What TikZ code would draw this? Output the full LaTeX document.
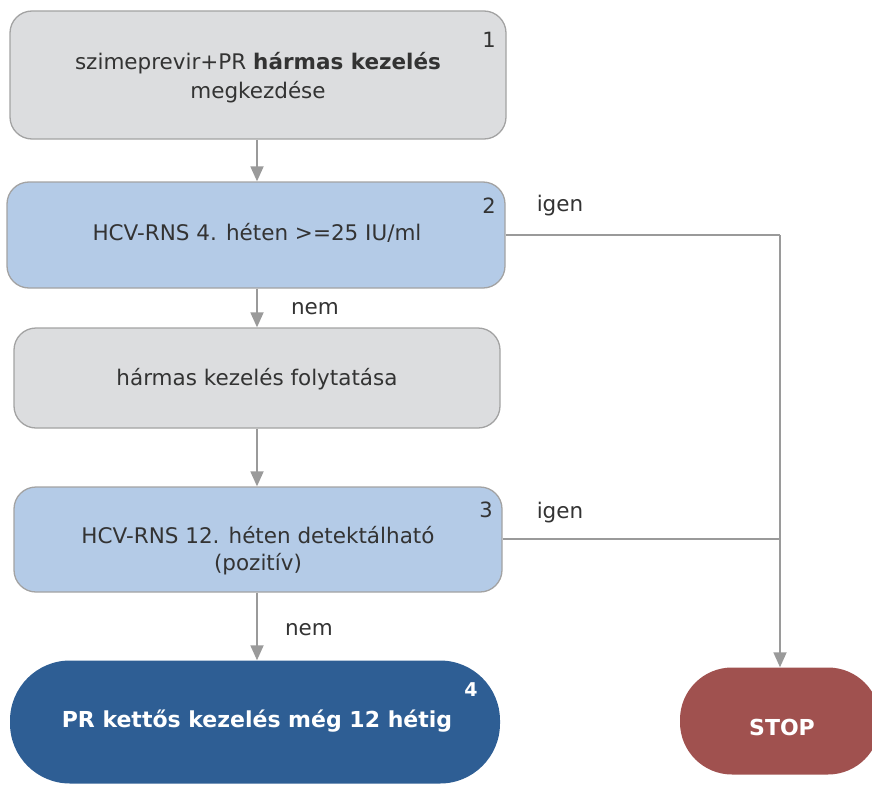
\documentclass[tikz,border=0pt]{standalone}
\usepackage{fontspec}
\setmainfont{DejaVu Sans}
\usetikzlibrary{arrows.meta,calc}
\definecolor{greyfill}{HTML}{DCDDDF}
\definecolor{bluefill}{HTML}{B4CBE7}
\definecolor{darkblue}{HTML}{2E5E94}
\definecolor{stopred}{HTML}{A0514F}
\definecolor{edge}{HTML}{A3A3A3}
\definecolor{wire}{HTML}{9A9A9A}
\definecolor{txt}{HTML}{333333}
\tikzset{
  box/.style={draw=edge, line width=1.3pt, rounded corners=22pt, inner sep=0pt},
  greybox/.style={box, fill=greyfill},
  bluebox/.style={box, fill=bluefill},
  boxtext/.style={text=txt, align=center, font=\fontsize{21.5}{29}\selectfont, inner sep=0pt},
  endbox/.style={draw=none, inner sep=0pt},
  endtext/.style={text=white, align=center, font=\bfseries\fontsize{22}{26}\selectfont, inner sep=0pt},
  num/.style={text=txt, font=\fontsize{21}{22}\selectfont, inner sep=0pt},
  wnum/.style={text=white, font=\bfseries\fontsize{19}{20}\selectfont, inner sep=0pt},
  lbl/.style={text=txt, font=\fontsize{21.5}{22}\selectfont, inner sep=0pt},
  flow/.style={draw=wire, line width=1.8pt, -{Triangle[width=13pt,length=15pt]}},
  link/.style={draw=wire, line width=1.8pt},
}
\begin{document}
\begin{tikzpicture}[x=1pt,y=-1pt]
\useasboundingbox (0,0) rectangle (872,784);

% process and decision boxes
\node[greybox, minimum width=496pt, minimum height=128pt] (start) at (258,75) {};
\node[boxtext] (starttxt) at (258,78)
  {szimeprevir+PR \textbf{hármas kezelés}\\megkezdése};
\node[bluebox, minimum width=498pt, minimum height=106pt] (wk4) at (256,235) {};
\node[boxtext] (wk4txt) at (257,233) {HCV-RNS 4. héten >=25 IU/ml};
\node[greybox, minimum width=486pt, minimum height=100pt] (cont) at (257,378) {};
\node[boxtext] (conttxt) at (257,379) {hármas kezelés folytatása};
\node[bluebox, minimum width=488pt, minimum height=105pt] (wk12) at (258,539.5) {};
\node[boxtext, font=\fontsize{21.5}{27}\selectfont] (wk12txt) at (258,551)
  {HCV-RNS 12. héten detektálható\\(pozitív)};

% terminal shapes
\node[endbox, fill=darkblue, rounded corners=60pt, minimum width=490pt, minimum height=123pt]
  (dual) at (255,722) {};
\node[endtext] (dualtxt) at (257,721) {PR kettős kezelés még 12 hétig};
\node[endbox, fill=stopred, rounded corners=52pt, minimum width=200pt, minimum height=107pt]
  (stop) at (780,721) {};
\node[endtext] (stoptxt) at (782,727) {STOP};

% step numbers
\node[num] (n1) at (489,40) {1};
\node[num] (n2) at (489,206) {2};
\node[num] (n3) at (486,510) {3};
\node[wnum] (n4) at (471,690) {4};

% connectors
\coordinate (turn2) at (780,235);
\coordinate (join3) at (780,539);
\draw[flow] (start.south -| 257,0) -- (wk4.north -| 257,0);
\draw[flow] (wk4.south -| 257,0) -- (cont.north -| 257,0);
\draw[flow] (cont.south -| 257,0) -- (wk12.north -| 257,0);
\draw[flow] (wk12.south -| 257,0) -- (dual.north -| 257,0);
\draw[link] (wk4.east) -- (turn2);
\draw[flow] (turn2) -- (stop.north);
\draw[link] (wk12.east |- join3) -- (join3);

% branch labels
\node[lbl] (yes1) at (560,206) {igen};
\node[lbl] (no1) at (315,309) {nem};
\node[lbl] (yes2) at (560,513) {igen};
\node[lbl] (no2) at (309,630) {nem};
\end{tikzpicture}
\end{document}
